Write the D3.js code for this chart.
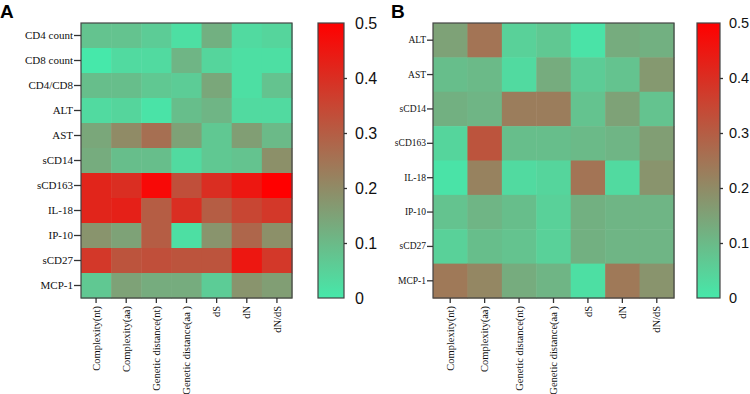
<!DOCTYPE html>
<meta charset="utf-8">
<style>
  body { margin: 0; background: white; }
</style>
<svg width="750" height="394"></svg>
<script src="https://cdn.jsdelivr.net/npm/d3@7"></script>
<script>

// columns shared by both panels
var cols = ["Complexity(nt)", "Complexity(aa)", "Genetic distance(nt)", "Genetic distance(aa )", "dS", "dN", "dN/dS"];

// panel A
var rowsA = ["CD4 count", "CD8 count", "CD4/CD8", "ALT", "AST", "sCD14", "sCD163", "IL-18", "IP-10", "sCD27", "MCP-1"];
var valsA = [
  [0.08, 0.08, 0.06, 0.02, 0.12, 0.03, 0.04],
  [0.00, 0.03, 0.03, 0.11, 0.04, 0.02, 0.02],
  [0.09, 0.09, 0.07, 0.06, 0.14, 0.02, 0.08],
  [0.03, 0.04, 0.01, 0.09, 0.11, 0.03, 0.03],
  [0.14, 0.20, 0.26, 0.15, 0.07, 0.16, 0.10],
  [0.13, 0.09, 0.09, 0.03, 0.07, 0.08, 0.19],
  [0.42, 0.40, 0.48, 0.33, 0.40, 0.45, 0.50],
  [0.42, 0.43, 0.30, 0.40, 0.30, 0.35, 0.38],
  [0.18, 0.15, 0.30, 0.02, 0.18, 0.28, 0.19],
  [0.38, 0.32, 0.33, 0.32, 0.32, 0.45, 0.38],
  [0.07, 0.15, 0.13, 0.13, 0.06, 0.18, 0.16]
];

// panel B
var rowsB = ["ALT", "AST", "sCD14", "sCD163", "IL-18", "IP-10", "sCD27", "MCP-1"];
var valsB = [
  [0.15, 0.25, 0.05, 0.07, 0.01, 0.13, 0.12],
  [0.09, 0.10, 0.03, 0.13, 0.06, 0.08, 0.17],
  [0.12, 0.11, 0.23, 0.23, 0.08, 0.15, 0.08],
  [0.04, 0.32, 0.09, 0.09, 0.10, 0.11, 0.16],
  [0.01, 0.22, 0.03, 0.04, 0.25, 0.03, 0.18],
  [0.08, 0.11, 0.09, 0.05, 0.12, 0.11, 0.11],
  [0.05, 0.09, 0.08, 0.05, 0.12, 0.11, 0.11],
  [0.24, 0.21, 0.13, 0.11, 0.02, 0.24, 0.18]
];

var legendTicks = [0, 0.1, 0.2, 0.3, 0.4, 0.5];

var serif = '"Liberation Serif", "Times New Roman", serif';
var sans = '"Liberation Sans", Arial, sans-serif';

var color = d3.scaleLinear()
  .domain([0, 0.5])
  .range(["#46e8aa", "#ff0000"])
  .interpolate(d3.interpolateRgb);

var svg = d3.select("svg");

// gradient for the colour bars
var grad = svg.append("defs").append("linearGradient")
  .attr("id", "cgrad")
  .attr("x1", 0).attr("x2", 0).attr("y1", 1).attr("y2", 0);
d3.range(0, 1.01, 0.1).forEach(t => {
  grad.append("stop").attr("offset", t).attr("stop-color", color(t * 0.5));
});

function heatmap(opt) {
  var g = svg.append("g");

  var x = d3.scaleBand().domain(cols).range([opt.x0, opt.x1]);
  var y = d3.scaleBand().domain(opt.rows).range([opt.y0, opt.y1]);

  var cells = [];
  opt.vals.forEach((r, i) => r.forEach((v, j) => cells.push({row: opt.rows[i], col: cols[j], v: v})));

  g.selectAll("rect.cell")
    .data(cells)
    .enter().append("rect")
    .attr("class", "cell")
    .attr("x", d => x(d.col))
    .attr("y", d => y(d.row))
    .attr("width", x.bandwidth() + 0.5)
    .attr("height", y.bandwidth() + 0.5)
    .attr("fill", d => color(d.v));

  g.append("rect")
    .attr("x", opt.x0).attr("y", opt.y0)
    .attr("width", opt.x1 - opt.x0).attr("height", opt.y1 - opt.y0)
    .attr("fill", "none").attr("stroke", "#444").attr("stroke-width", 1.2);

  // row labels
  var ya = g.append("g").attr("transform", `translate(${opt.x0},0)`)
    .call(d3.axisLeft(y).tickSize(opt.tick).tickPadding(1));
  ya.attr("font-family", serif).attr("font-size", opt.rowFont);
  ya.select(".domain").remove();
  ya.selectAll("line").attr("stroke", "#333").attr("stroke-width", 1.3);
  ya.selectAll("text").attr("fill", "#111");

  // column labels
  var xa = g.append("g").attr("transform", `translate(0,${opt.y1})`)
    .call(d3.axisBottom(x).tickSize(5).tickPadding(3));
  xa.attr("font-family", serif).attr("font-size", opt.colFont);
  xa.select(".domain").remove();
  xa.selectAll("line").attr("stroke", "#333").attr("stroke-width", 1.3);
  xa.selectAll("text")
    .attr("fill", "#111")
    .attr("transform", "rotate(-90)")
    .attr("text-anchor", "end")
    .attr("x", -8).attr("y", 0).attr("dy", "0.35em");

  // colour bar
  var cy = d3.scaleLinear().domain([0, 0.5]).range([opt.y1, opt.y0]);
  var cb = g.append("g");
  cb.append("rect")
    .attr("x", opt.cx).attr("y", opt.y0)
    .attr("width", opt.cw).attr("height", opt.y1 - opt.y0)
    .attr("fill", "url(#cgrad)").attr("stroke", "#444").attr("stroke-width", 1.2);
  var ca = cb.append("g").attr("transform", `translate(${opt.cx + opt.cw},0)`)
    .call(d3.axisRight(cy).tickValues(legendTicks).tickFormat(d3.format("")).tickSize(3).tickPadding(opt.cpad));
  ca.attr("font-family", sans).attr("font-size", opt.cFont);
  ca.select(".domain").remove();
  ca.selectAll("line").attr("stroke", "#333").attr("stroke-width", 1.3)
    .filter(d => d === 0 || d === 0.5).remove();
  ca.selectAll("text").attr("fill", "#111");

  svg.append("text")
    .attr("font-family", sans).attr("font-weight", "bold").attr("font-size", "19px")
    .attr("x", opt.px).attr("y", 18).text(opt.label);
}

heatmap({rows: rowsA, vals: valsA, x0: 81, x1: 292, y0: 23, y1: 298, tick: 7,
  rowFont: "11px", colFont: "10.5px", cx: 318, cw: 26, cpad: 8, cFont: "16px", px: 0, label: "A"});
heatmap({rows: rowsB, vals: valsB, x0: 433, x1: 674, y0: 23, y1: 298, tick: 6,
  rowFont: "9.5px", colFont: "10.5px", cx: 697, cw: 23, cpad: 6, cFont: "14.5px", px: 391, label: "B"});

</script>
